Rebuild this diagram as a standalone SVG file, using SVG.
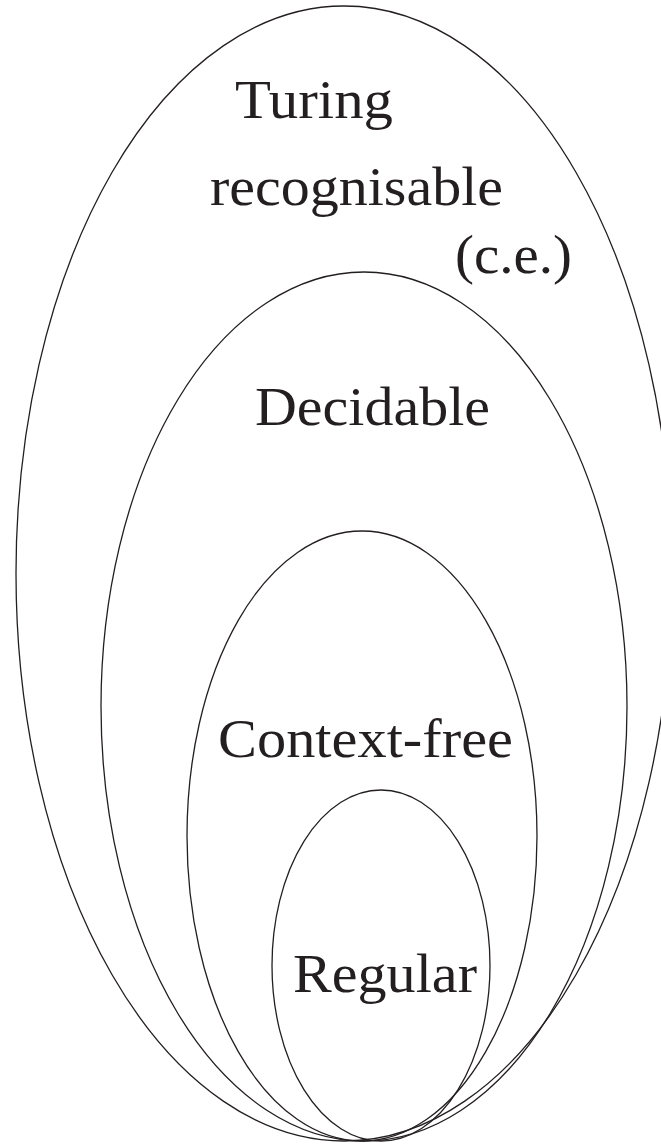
<svg xmlns="http://www.w3.org/2000/svg" width="661" height="1144" viewBox="0 0 661 1144">
<style>
.set{fill:none;stroke:#231f20;stroke-width:1.3}
.lbl{font-family:"Liberation Serif","Times New Roman",serif;font-size:54px;fill:#231f20}
</style>
<rect width="661" height="1144" fill="#fff"/>
<g id="turing">
<ellipse class="set" cx="344" cy="573.5" rx="328" ry="567.5"/>
<text class="lbl" x="235" y="118" textLength="158" lengthAdjust="spacingAndGlyphs">Turing</text>
<text class="lbl" x="210" y="205" textLength="293" lengthAdjust="spacingAndGlyphs">recognisable</text>
<text class="lbl" x="455" y="273" textLength="117" lengthAdjust="spacingAndGlyphs">(c.e.)</text>
</g>
<g id="decidable">
<ellipse class="set" cx="364" cy="706.5" rx="263" ry="434.5"/>
<text class="lbl" x="255" y="425" textLength="235" lengthAdjust="spacingAndGlyphs">Decidable</text>
</g>
<g id="contextfree">
<ellipse class="set" cx="362" cy="836" rx="175" ry="305"/>
<text class="lbl" x="218" y="757" textLength="295" lengthAdjust="spacingAndGlyphs">Context-free</text>
</g>
<g id="regular">
<ellipse class="set" cx="381" cy="965.5" rx="109" ry="175.5"/>
<text class="lbl" x="293" y="992" textLength="184" lengthAdjust="spacingAndGlyphs">Regular</text>
</g>
<g id="connectors"/>
</svg>
